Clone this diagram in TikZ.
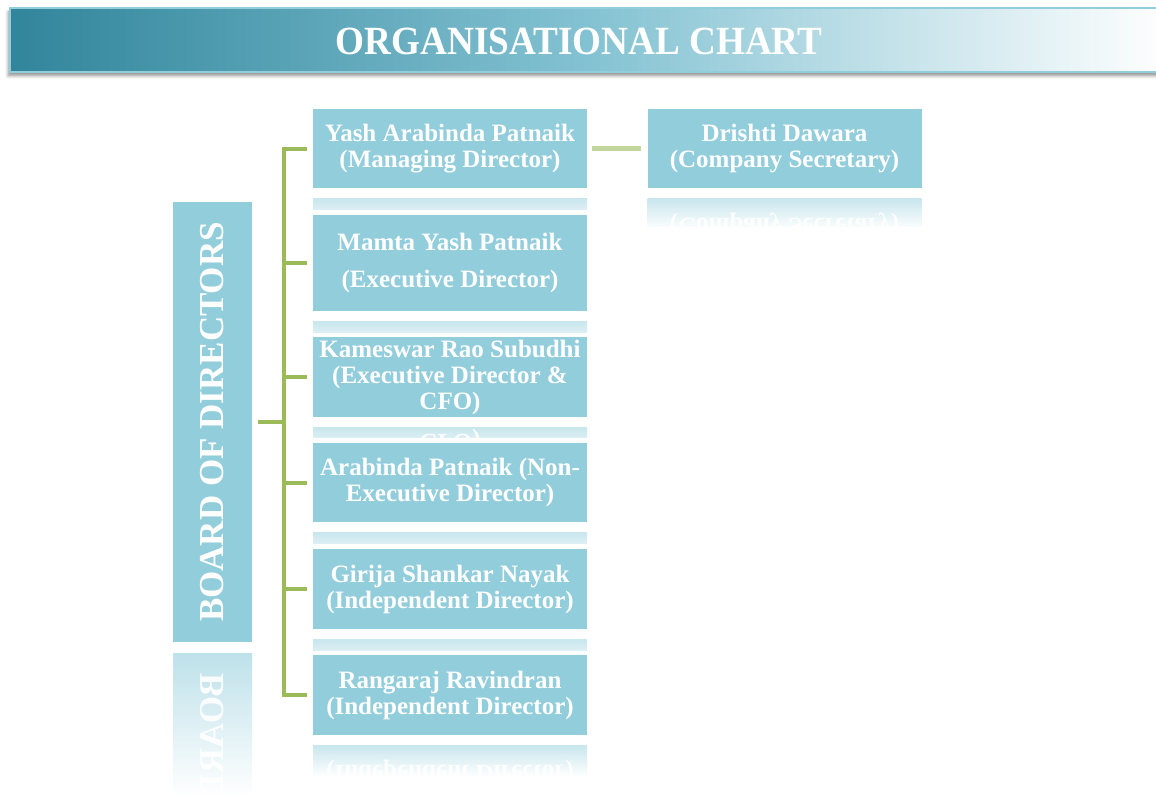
\documentclass[tikz,border=0pt]{standalone}
\usepackage{fontspec}
\setmainfont{Liberation Serif}
\usetikzlibrary{shadows.blur}
\definecolor{boxblue}{RGB}{146,205,220}
\definecolor{titleteal}{RGB}{49,133,155}
\definecolor{linkgreen}{RGB}{155,187,89}
\definecolor{palegreen}{RGB}{195,214,155}
\begin{document}
\begin{tikzpicture}[x=1pt,y=-1pt,
    member/.style={rectangle,fill=boxblue,text=white,font=\bfseries\fontsize{25}{26}\selectfont,align=center,minimum width=274pt,inner sep=0pt},
    ghost/.style={member,fill=none,text opacity=0.9},
    bracket/.style={draw=linkgreen,line width=4pt}]
  \useasboundingbox (0,0) rectangle (1156,797);
  \shade[left color=titleteal,right color=white,middle color=boxblue!85!titleteal,draw=boxblue,line width=1.2pt,blur shadow={shadow xshift=-2pt,shadow yshift=-4pt,shadow blur radius=3pt}] (10,8) rectangle (1170,72);
  \node[text=white,font=\bfseries\fontsize{40}{40}\selectfont] (title) at (579,41) {\scalebox{0.93}[1]{ORGANISATIONAL CHART}};
  \node[member,minimum width=79pt,minimum height=440pt,font=\bfseries\fontsize{35}{35}\selectfont] (board) at (212.5,422) {\rotatebox{90}{BOARD OF DIRECTORS}};
  \begin{scope}
    \clip (173,653) rectangle (252,797);
    \shade[top color=boxblue!60,bottom color=white] (173,653) rectangle (252,797);
    \begin{scope}[cm={1,0,0,-1,(0,1295)},transform shape]
      \node[ghost,minimum width=79pt,minimum height=440pt,font=\bfseries\fontsize{35}{35}\selectfont] at (212.5,422) {\rotatebox{90}{BOARD OF DIRECTORS}};
    \end{scope}
  \end{scope}
  \foreach \who/\cx/\cy/\hgt/\rh/\txt in {
      yash/450/148.5/79/11/{Yash Arabinda Patnaik\\(Managing Director)},
      mamta/450/263/96/11/{Mamta Yash Patnaik\\[11pt](Executive Director)},
      kameswar/450/377/80/10/{Kameswar Rao Subudhi\\(Executive Director \&\\CFO)},
      arabinda/450/482.5/79/11/{Arabinda Patnaik (Non-\\Executive Director)},
      girija/450/589/80/11/{Girija Shankar Nayak\\(Independent Director)},
      rangaraj/450/695/80/30/{Rangaraj Ravindran\\(Independent Director)},
      drishti/784.5/148.5/79/28/{Drishti Dawara\\(Company Secretary)}}
  {
    \node[member,minimum height=\hgt pt] (\who) at (\cx,\cy) {\txt};
    \begin{scope}
      \clip ({\cx-137},{\cy+\hgt/2+10}) rectangle ({\cx+137},{\cy+\hgt/2+10+\rh});
      \shade[top color=boxblue!50,bottom color=white] ({\cx-137},{\cy+\hgt/2+10}) rectangle ({\cx+137},{\cy+\hgt/2+42});
      \begin{scope}[cm={1,0,0,-1,(0,{2*\cy+\hgt+10})},transform shape]
        \node[ghost,minimum height=\hgt pt] at (\cx,\cy) {\txt};
      \end{scope}
    \end{scope}
  }
  \foreach \who in {yash,mamta,kameswar,arabinda,girija,rangaraj}
    \draw[bracket] ([xshift=-6pt]\who.west) -- ++(-23,0) |- ([xshift=6pt]board.east);
  \draw[draw=palegreen,line width=5pt] ([xshift=5pt]yash.east) -- ([xshift=-6pt]drishti.west);
\end{tikzpicture}
\end{document}
